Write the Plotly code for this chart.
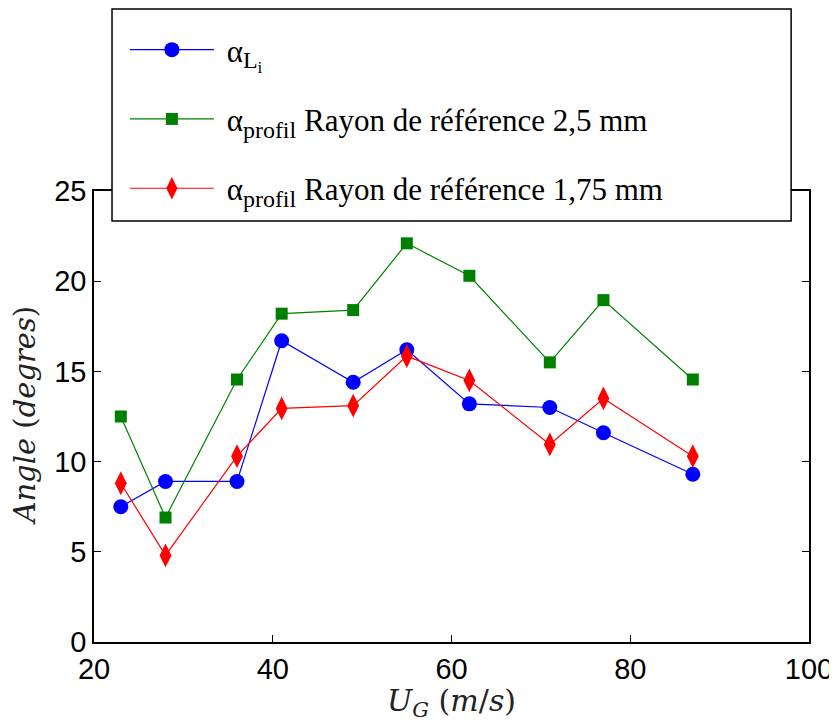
import plotly.graph_objects as go

ug = [23, 28, 36, 41, 49, 55, 62, 71, 77, 87]
alpha_li = [7.5, 8.9, 8.9, 16.7, 14.4, 16.2, 13.2, 13.0, 11.6, 9.3]
alpha_25 = [12.5, 6.9, 14.55, 18.2, 18.4, 22.1, 20.3, 15.5, 18.95, 14.55]
alpha_175 = [8.8, 4.8, 10.3, 12.95, 13.1, 15.85, 14.5, 10.95, 13.5, 10.3]

sub = "<sub><span style='font-size:24px'>%s</span></sub>"
names = [
    "\u00a0α" + sub % ("L" + "<sub><span style='font-size:17px'>i</span></sub>"),
    "\u00a0α" + sub % "profil" + " Rayon de référence 2,5 mm",
    "\u00a0α" + sub % "profil" + " Rayon de référence 1,75 mm",
]

fig = go.Figure()
fig.add_trace(go.Scatter(x=ug, y=alpha_li, name=names[0], mode="lines+markers",
                         legendgroup="a",
                         line=dict(color="#0000ff", width=1.2),
                         marker=dict(symbol="circle", size=15, color="#0000ff")))
fig.add_trace(go.Scatter(x=ug, y=alpha_25, name=names[1], mode="lines+markers",
                         legendgroup="b",
                         line=dict(color="#008000", width=1.2),
                         marker=dict(symbol="square", size=12, color="#008000")))
fig.add_trace(go.Scatter(x=ug, y=alpha_175, name=names[2], mode="lines+markers",
                         legendgroup="c",
                         line=dict(color="#ff0000", width=1.2),
                         marker=dict(symbol="diamond-tall", size=17, color="#ff0000")))

axis_common = dict(
    showline=True, linecolor="black", linewidth=1.5, mirror="ticks",
    ticks="inside", ticklen=7, tickcolor="black", tickwidth=1,
    showgrid=False, zeroline=False,
    tickfont=dict(family="Liberation Sans, Arial", size=29, color="black"),
)

title_font = dict(family="DejaVu Serif", size=29, color="#222")

# page body adds an 8px offset, so the figure is 8px smaller than the window
fig.update_layout(
    width=829, height=714,
    margin=dict(l=86, r=28, t=183, b=80, autoexpand=False),
    plot_bgcolor="white", paper_bgcolor="white",
    xaxis=dict(range=[20, 100], tickvals=[20, 40, 60, 80, 100],
               title=dict(text="<i>U</i><sub><i>G</i></sub> (<i>m</i>/<i>s</i>)",
                          font=dict(family="DejaVu Serif", size=30, color="#222"),
                          standoff=0),
               **axis_common),
    yaxis=dict(range=[0, 25], tickvals=[0, 5, 10, 15, 20, 25], **axis_common),
    annotations=[dict(text="<i>Angle</i> (<i>degres</i>)", textangle=-90,
                      xref="paper", yref="paper", x=-0.096, y=0.503,
                      xanchor="center", yanchor="middle", showarrow=False,
                      font=title_font)],
    showlegend=True,
    legend=dict(xref="container", yref="container", x=0.141, y=0.979,
                xanchor="left", yanchor="top",
                bgcolor="rgba(0,0,0,0)", borderwidth=0, itemwidth=84,
                font=dict(family="Liberation Serif", size=31, color="black"),
                tracegroupgap=26),
    shapes=[dict(type="rect", xref="paper", yref="paper",
                 x0=0.0252, x1=0.975, y0=0.9335, y1=1.4035,
                 line=dict(color="black", width=1.5), fillcolor="white", layer="above")],
)

fig.write_html("out.html")
